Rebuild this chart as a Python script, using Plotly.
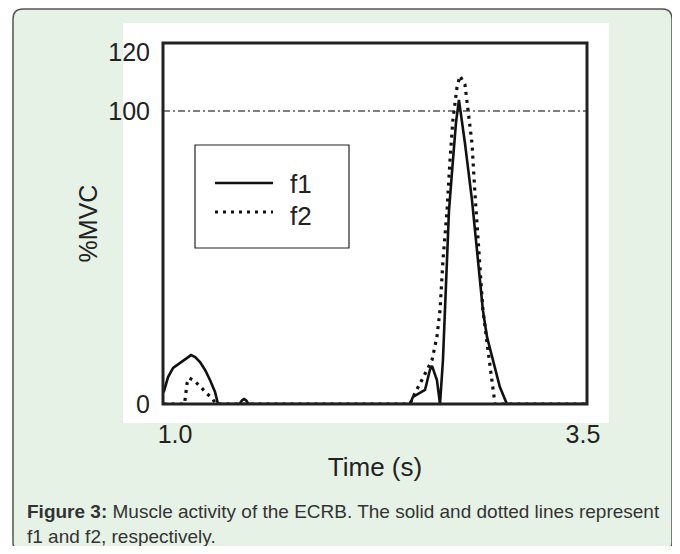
import plotly.graph_objects as go

# ---------------- data ----------------
SERIES_NAMES = ["f1", "f2"]

f1_time = [0.93, 0.939, 0.957, 0.988, 1.031, 1.074, 1.098, 1.123, 1.153, 1.184, 1.214, 1.245, 1.263,
           1.395, 1.41, 1.423, 1.436, 1.45,
           2.44, 2.458, 2.532, 2.562, 2.575, 2.605, 2.624,
           2.642, 2.660, 2.679, 2.703, 2.722, 2.740,
           2.777, 2.820, 2.857, 2.887, 2.912, 2.948, 2.991, 3.034, 3.525]
f1_value = [4.0, 5.5, 9.2, 12.3, 14.0, 16.0, 16.7, 16.0, 14.3, 11.6, 8.2, 4.1, 0.0,
            0.0, 1.2, 1.7, 1.2, 0.0,
            0.0, 2.4, 4.8, 11.6, 13.0, 8.2, 0.0,
            15.0, 37.9, 66.0, 83.0, 96.0, 103.8,
            89.0, 69.6, 49.1, 32.0, 22.9, 15.0, 5.8, 0.0, 0.0]

f2_time = [0.93, 1.058, 1.061, 1.067, 1.074, 1.086, 1.110, 1.153, 1.190, 1.227, 1.251,
           2.440, 2.470, 2.513, 2.544, 2.575, 2.605, 2.624, 2.642, 2.667, 2.685, 2.703,
           2.728, 2.746, 2.777, 2.795, 2.820, 2.838, 2.869, 2.887, 2.918, 2.942, 2.961, 3.525]
f2_value = [0.0, 0.0, 1.4, 4.1, 7.2, 8.9, 8.2, 6.1, 3.8, 2.0, 0.0,
            0.0, 3.7, 8.2, 11.6, 15.0, 22.9, 32.0, 49.0, 66.0, 83.0, 97.0,
            108.0, 112.0, 109.0, 101.0, 89.0, 72.0, 49.0, 32.0, 18.4, 8.2, 0.0, 0.0]

X_TICKS = [1.0, 3.5]
X_TICK_TEXT = ["1.0", "3.5"]
Y_TICKS = [0, 100, 120]
Y_TICK_TEXT = ["0", "100", "120"]
REF_LEVEL = 100
X_RANGE = [0.926, 3.525]
Y_RANGE = [0, 123.2]

X_TITLE = "Time (s)"
Y_TITLE = "%MVC"
CAPTION_1 = "<b>Figure 3:</b> Muscle activity of the ECRB. The solid and dotted lines represent"
CAPTION_2 = "f1 and f2, respectively."

# ---------------- layout geometry ----------------
# The page body has an 8px margin, so the figure is sized to fit the window
# and all page-pixel positions are converted to figure pixels.
OFF = 8
W, H = 680 - 2 * OFF, 554 - 2 * OFF
PL, PR, PT, PB = 163 - OFF, 587 - OFF, 43 - OFF, 404 - OFF   # plot frame (figure px)
FONT = "Liberation Sans, Arial, Helvetica, sans-serif"


def px(x):
    """page pixel x -> paper fraction"""
    return (x - OFF - PL) / (PR - PL)


def py(y):
    """page pixel y -> paper fraction"""
    return (PB - (y - OFF)) / (PB - PT)


def rounded_rect(x0, y0, x1, y1, r):
    rx = r / (PR - PL)
    ry = r / (PB - PT)
    X0, X1 = px(x0), px(x1)
    Y0, Y1 = py(y1), py(y0)  # bottom, top in paper
    return (f"M {X0+rx},{Y0} L {X1-rx},{Y0} Q {X1},{Y0} {X1},{Y0+ry} "
            f"L {X1},{Y1-ry} Q {X1},{Y1} {X1-rx},{Y1} "
            f"L {X0+rx},{Y1} Q {X0},{Y1} {X0},{Y1-ry} "
            f"L {X0},{Y0+ry} Q {X0},{Y0} {X0+rx},{Y0} Z")


fig = go.Figure()
fig.add_trace(go.Scatter(x=f1_time, y=f1_value, mode="lines", name=SERIES_NAMES[0],
                         line=dict(color="#111111", width=2.6), cliponaxis=False,
                         showlegend=False))
fig.add_trace(go.Scatter(x=f2_time, y=f2_value, mode="lines", name=SERIES_NAMES[1],
                         line=dict(color="#111111", width=3.2, dash="3px,5px"),
                         cliponaxis=False, showlegend=False))

shapes = [
    # card
    dict(type="path", xref="paper", yref="paper", layer="below",
         path=rounded_rect(13, 9, 672, 552, 10),
         fillcolor="#E7F2E7", line=dict(color="#555555", width=1.5)),
    # white panel
    dict(type="rect", xref="paper", yref="paper", layer="below",
         x0=px(123), x1=px(609), y0=py(423), y1=py(23),
         fillcolor="white", line=dict(width=0)),
    # reference line
    dict(type="line", xref="paper", yref="y", layer="below",
         x0=0, x1=1, y0=REF_LEVEL, y1=REF_LEVEL,
         line=dict(color="#555555", width=1.3, dash="7px,3px,2px,3px")),
    # frame
    dict(type="rect", xref="paper", yref="paper", layer="above",
         x0=0, x1=1, y0=0, y1=1, line=dict(color="#222222", width=3)),
    # legend box
    dict(type="rect", xref="paper", yref="paper", layer="above",
         x0=px(195), x1=px(349), y0=py(248), y1=py(145),
         fillcolor="rgba(0,0,0,0)", line=dict(color="#222222", width=1.2)),
    # legend samples
    dict(type="line", xref="paper", yref="paper", x0=px(215), x1=px(273),
         y0=py(183), y1=py(183), line=dict(color="#111111", width=2.6)),
    dict(type="line", xref="paper", yref="paper", x0=px(215), x1=px(273),
         y0=py(212), y1=py(212), line=dict(color="#111111", width=3.2, dash="3px,5px")),
]

annotations = [
    dict(text=SERIES_NAMES[0], xref="paper", yref="paper", x=px(288), y=py(184),
         xanchor="left", yanchor="middle", showarrow=False,
         font=dict(family=FONT, size=26, color="#222222")),
    dict(text=SERIES_NAMES[1], xref="paper", yref="paper", x=px(288), y=py(216),
         xanchor="left", yanchor="middle", showarrow=False,
         font=dict(family=FONT, size=26, color="#222222")),
    dict(text=CAPTION_1, xref="paper", yref="paper", x=px(25), y=py(511),
         xanchor="left", yanchor="middle", showarrow=False, align="left",
         font=dict(family=FONT, size=19, color="#333333")),
    dict(text=CAPTION_2, xref="paper", yref="paper", x=px(25), y=py(536),
         xanchor="left", yanchor="middle", showarrow=False, align="left",
         font=dict(family=FONT, size=19, color="#333333")),
]

fig.update_layout(
    width=W, height=H, autosize=False,
    margin=dict(l=PL, r=W - PR, t=PT, b=H - PB, pad=0),
    paper_bgcolor="white", plot_bgcolor="rgba(0,0,0,0)",
    shapes=shapes, annotations=annotations, showlegend=False,
    font=dict(family=FONT, color="#222222"),
    xaxis=dict(range=X_RANGE, tickvals=X_TICKS, ticktext=X_TICK_TEXT,
               showgrid=False, zeroline=False, showline=False, ticks="",
               tickfont=dict(family=FONT, size=25, color="#222222"),
               ticklabelstandoff=13,
               title=dict(text=X_TITLE, font=dict(family=FONT, size=26, color="#222222"),
                          standoff=10)),
    yaxis=dict(range=Y_RANGE, tickvals=Y_TICKS, ticktext=Y_TICK_TEXT,
               showgrid=False, zeroline=False, showline=False, ticks="",
               tickfont=dict(family=FONT, size=25, color="#222222"),
               ticklabelstandoff=12,
               title=dict(text=Y_TITLE, font=dict(family=FONT, size=25, color="#222222"),
                          standoff=3)),
)

fig.write_html("out.html")
